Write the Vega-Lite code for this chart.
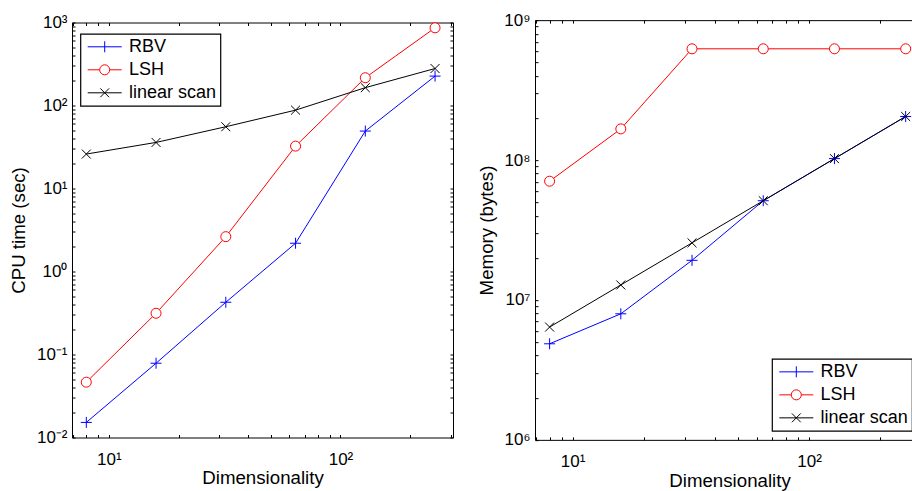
{
  "$schema": "https://vega.github.io/schema/vega-lite/v6.json",
  "background": "white",
  "autosize": {"type": "pad"},
  "padding": {"left": 8, "top": 10, "right": 0, "bottom": 0},
  "spacing": 82,
  "bounds": "flush",
  "center": true,
  "resolve": {"scale": {"color": "independent", "shape": "independent"}, "legend": {"color": "independent", "shape": "independent"}},
  "datasets": {
    "cpu": [
      {"dim": 8, "method": "RBV", "value": 0.0152},
      {"dim": 16, "method": "RBV", "value": 0.0785},
      {"dim": 32, "method": "RBV", "value": 0.426},
      {"dim": 64, "method": "RBV", "value": 2.19},
      {"dim": 128, "method": "RBV", "value": 49.2},
      {"dim": 256, "method": "RBV", "value": 226},
      {"dim": 8, "method": "LSH", "value": 0.0464},
      {"dim": 16, "method": "LSH", "value": 0.314},
      {"dim": 32, "method": "LSH", "value": 2.63},
      {"dim": 64, "method": "LSH", "value": 32.4},
      {"dim": 128, "method": "LSH", "value": 216},
      {"dim": 256, "method": "LSH", "value": 863},
      {"dim": 8, "method": "linear scan", "value": 26.0},
      {"dim": 16, "method": "linear scan", "value": 35.9},
      {"dim": 32, "method": "linear scan", "value": 55.5},
      {"dim": 64, "method": "linear scan", "value": 87.9},
      {"dim": 128, "method": "linear scan", "value": 164},
      {"dim": 256, "method": "linear scan", "value": 279}
    ],
    "memory": [
      {"dim": 8, "method": "RBV", "value": 4860000},
      {"dim": 16, "method": "RBV", "value": 7960000},
      {"dim": 32, "method": "RBV", "value": 19200000},
      {"dim": 64, "method": "RBV", "value": 51200000},
      {"dim": 128, "method": "RBV", "value": 102400000},
      {"dim": 256, "method": "RBV", "value": 204800000},
      {"dim": 8, "method": "LSH", "value": 70600000},
      {"dim": 16, "method": "LSH", "value": 167000000},
      {"dim": 32, "method": "LSH", "value": 624000000},
      {"dim": 64, "method": "LSH", "value": 624000000},
      {"dim": 128, "method": "LSH", "value": 624000000},
      {"dim": 256, "method": "LSH", "value": 624000000},
      {"dim": 8, "method": "linear scan", "value": 6400000},
      {"dim": 16, "method": "linear scan", "value": 12800000},
      {"dim": 32, "method": "linear scan", "value": 25600000},
      {"dim": 64, "method": "linear scan", "value": 51200000},
      {"dim": 128, "method": "linear scan", "value": 102400000},
      {"dim": 256, "method": "linear scan", "value": 204800000}
    ]
  },
  "hconcat": [
    {
      "width": 381,
      "height": 415,
      "data": {"name": "cpu"},
      "encoding": {
        "x": {"field": "dim", "type": "quantitative", "scale": {"type": "log", "domain": [6.94, 306], "nice": false}, "axis": null},
        "y": {"field": "value", "type": "quantitative", "scale": {"type": "log", "domain": [0.01, 1000], "nice": false}, "axis": null},
        "color": {"field": "method", "type": "nominal", "scale": {"domain": ["RBV", "LSH", "linear scan"], "range": ["#0000ff", "#ff0000", "#000000"]}}
      },
      "layer": [
        {
          "mark": {"type": "line", "strokeWidth": 1},
          "encoding": {
            "x": {
              "field": "dim", "type": "quantitative",
              "axis": {
                "orient": "bottom", "title": "Dimensionality",
                "values": [7, 8, 9, 10, 20, 30, 40, 50, 60, 70, 80, 90, 100, 200, 300],
                "labelExpr": "abs(log(datum.value)/LN10 - round(log(datum.value)/LN10)) < 1e-6 ? '10' + (round(log(datum.value)/LN10) < 0 ? '⁻' : '') + ['⁰','¹','²','³','⁴','⁵','⁶','⁷','⁸','⁹'][abs(round(log(datum.value)/LN10))] : ''",
                "labelBaseline": "alphabetic", "labelPadding": 29.7,
                "titleBaseline": "alphabetic", "titleY": 46.3
              }
            },
            "y": {
              "field": "value", "type": "quantitative",
              "axis": {
                "orient": "left", "title": "CPU time (sec)",
                "values": [0.01, 0.02, 0.03, 0.04, 0.05, 0.06, 0.07, 0.08, 0.09, 0.1, 0.2, 0.3, 0.4, 0.5, 0.6, 0.7, 0.8, 0.9, 1, 2, 3, 4, 5, 6, 7, 8, 9, 10, 20, 30, 40, 50, 60, 70, 80, 90, 100, 200, 300, 400, 500, 600, 700, 800, 900, 1000],
                "labelExpr": "abs(log(datum.value)/LN10 - round(log(datum.value)/LN10)) < 1e-6 ? '10' + (round(log(datum.value)/LN10) < 0 ? '⁻' : '') + ['⁰','¹','²','³','⁴','⁵','⁶','⁷','⁸','⁹'][abs(round(log(datum.value)/LN10))] : ''",
                "labelPadding": 8,
                "titleBaseline": "alphabetic", "titleX": -47.8
              }
            },
            "color": {
              "field": "method", "type": "nominal",
              "legend": {"orient": "none", "legendX": 8.4, "legendY": 11.3}
            }
          }
        },
        {
          "transform": [{"filter": {"field": "method", "equal": "RBV"}}],
          "mark": {"type": "point", "shape": "M-1,0L1,0M0,-1L0,1", "filled": false, "strokeWidth": 1, "size": 121, "opacity": 1},
          "encoding": {
            "x": {
              "field": "dim", "type": "quantitative",
              "axis": {"orient": "top", "title": null, "labels": false,
                "values": [7, 8, 9, 10, 20, 30, 40, 50, 60, 70, 80, 90, 100, 200, 300]}
            },
            "y": {
              "field": "value", "type": "quantitative",
              "axis": {"orient": "right", "title": null, "labels": false,
                "values": [0.01, 0.02, 0.03, 0.04, 0.05, 0.06, 0.07, 0.08, 0.09, 0.1, 0.2, 0.3, 0.4, 0.5, 0.6, 0.7, 0.8, 0.9, 1, 2, 3, 4, 5, 6, 7, 8, 9, 10, 20, 30, 40, 50, 60, 70, 80, 90, 100, 200, 300, 400, 500, 600, 700, 800, 900, 1000]}
            }
          }
        },
        {
          "transform": [{"filter": {"field": "method", "equal": "LSH"}}],
          "mark": {"type": "point", "shape": "circle", "filled": false, "fill": "white", "strokeWidth": 1, "size": 100, "opacity": 1}
        },
        {
          "transform": [{"filter": {"field": "method", "equal": "linear scan"}}],
          "mark": {"type": "point", "shape": "M-1,-1L1,1M-1,1L1,-1", "filled": false, "strokeWidth": 1, "size": 80, "opacity": 1}
        },
        {
          "transform": [{"filter": "false"}],
          "mark": {"type": "point", "filled": false, "strokeWidth": 1, "opacity": 1},
          "encoding": {
            "shape": {
              "field": "method", "type": "nominal",
              "scale": {"domain": ["RBV", "LSH", "linear scan"], "range": ["M-2,0L2,0M0,-0.65L0,0.65", "M-2,0L-0.59,0M0.59,0L2,0M0.59,0A0.59,0.59,0,1,1,-0.59,0A0.59,0.59,0,1,1,0.59,0Z", "M-2,0L2,0M-0.52,-0.52L0.52,0.52M-0.52,0.52L0.52,-0.52"]},
              "legend": {"orient": "none", "legendX": 8.4, "legendY": 11.3}
            }
          }
        }
      ],
      "resolve": {"axis": {"x": "independent", "y": "independent"}}
    },
    {
      "width": 389,
      "height": 419.7,
      "data": {"name": "memory"},
      "encoding": {
        "x": {"field": "dim", "type": "quantitative", "scale": {"type": "log", "domain": [6.94, 306], "nice": false}, "axis": null},
        "y": {"field": "value", "type": "quantitative", "scale": {"type": "log", "domain": [1000000, 1000000000], "nice": false}, "axis": null},
        "color": {"field": "method", "type": "nominal", "scale": {"domain": ["RBV", "LSH", "linear scan"], "range": ["#0000ff", "#ff0000", "#000000"]}}
      },
      "layer": [
        {
          "mark": {"type": "line", "strokeWidth": 1},
          "encoding": {
            "x": {
              "field": "dim", "type": "quantitative",
              "axis": {
                "orient": "bottom", "title": "Dimensionality",
                "values": [7, 8, 9, 10, 20, 30, 40, 50, 60, 70, 80, 90, 100, 200, 300],
                "labelExpr": "abs(log(datum.value)/LN10 - round(log(datum.value)/LN10)) < 1e-6 ? '10' + (round(log(datum.value)/LN10) < 0 ? '⁻' : '') + ['⁰','¹','²','³','⁴','⁵','⁶','⁷','⁸','⁹'][abs(round(log(datum.value)/LN10))] : ''",
                "labelBaseline": "alphabetic", "labelPadding": 29.7,
                "titleBaseline": "alphabetic", "titleY": 46.3
              }
            },
            "y": {
              "field": "value", "type": "quantitative",
              "axis": {
                "orient": "left", "title": "Memory (bytes)",
                "values": [1000000, 2000000, 3000000, 4000000, 5000000, 6000000, 7000000, 8000000, 9000000, 10000000, 20000000, 30000000, 40000000, 50000000, 60000000, 70000000, 80000000, 90000000, 100000000, 200000000, 300000000, 400000000, 500000000, 600000000, 700000000, 800000000, 900000000, 1000000000],
                "labelExpr": "abs(log(datum.value)/LN10 - round(log(datum.value)/LN10)) < 1e-6 ? '10' + (round(log(datum.value)/LN10) < 0 ? '⁻' : '') + ['⁰','¹','²','³','⁴','⁵','⁶','⁷','⁸','⁹'][abs(round(log(datum.value)/LN10))] : ''",
                "labelPadding": 8,
                "titleBaseline": "alphabetic", "titleX": -42.7
              }
            },
            "color": {
              "field": "method", "type": "nominal",
              "legend": {"orient": "none", "legendX": 237, "legendY": 338.7}
            }
          }
        },
        {
          "transform": [{"filter": {"field": "method", "equal": "RBV"}}],
          "mark": {"type": "point", "shape": "M-1,0L1,0M0,-1L0,1", "filled": false, "strokeWidth": 1, "size": 121, "opacity": 1},
          "encoding": {
            "x": {
              "field": "dim", "type": "quantitative",
              "axis": {"orient": "top", "title": null, "labels": false,
                "values": [7, 8, 9, 10, 20, 30, 40, 50, 60, 70, 80, 90, 100, 200, 300]}
            },
            "y": {
              "field": "value", "type": "quantitative",
              "axis": {"orient": "right", "title": null, "labels": false,
                "values": [1000000, 2000000, 3000000, 4000000, 5000000, 6000000, 7000000, 8000000, 9000000, 10000000, 20000000, 30000000, 40000000, 50000000, 60000000, 70000000, 80000000, 90000000, 100000000, 200000000, 300000000, 400000000, 500000000, 600000000, 700000000, 800000000, 900000000, 1000000000]}
            }
          }
        },
        {
          "transform": [{"filter": {"field": "method", "equal": "LSH"}}],
          "mark": {"type": "point", "shape": "circle", "filled": false, "fill": "white", "strokeWidth": 1, "size": 100, "opacity": 1}
        },
        {
          "transform": [{"filter": {"field": "method", "equal": "linear scan"}}],
          "mark": {"type": "point", "shape": "M-1,-1L1,1M-1,1L1,-1", "filled": false, "strokeWidth": 1, "size": 80, "opacity": 1}
        },
        {
          "transform": [{"filter": "false"}],
          "mark": {"type": "point", "filled": false, "strokeWidth": 1, "opacity": 1},
          "encoding": {
            "shape": {
              "field": "method", "type": "nominal",
              "scale": {"domain": ["RBV", "LSH", "linear scan"], "range": ["M-2,0L2,0M0,-0.65L0,0.65", "M-2,0L-0.59,0M0.59,0L2,0M0.59,0A0.59,0.59,0,1,1,-0.59,0A0.59,0.59,0,1,1,0.59,0Z", "M-2,0L2,0M-0.52,-0.52L0.52,0.52M-0.52,0.52L0.52,-0.52"]},
              "legend": {"orient": "none", "legendX": 237, "legendY": 338.7}
            }
          }
        }
      ],
      "resolve": {"axis": {"x": "independent", "y": "independent"}}
    }
  ],
  "config": {
    "font": "Liberation Sans",
    "view": {"stroke": "black", "strokeWidth": 1},
    "axis": {
      "domain": false, "grid": false,
      "ticks": true, "tickColor": "black", "tickSize": -3, "tickWidth": 1,
      "labelFont": "Liberation Sans", "labelFontSize": 17, "labelColor": "black",
      "labelOverlap": false, "labelFlush": false,
      "titleFont": "Liberation Sans", "titleFontSize": 18.7, "titleFontWeight": "normal", "titleColor": "black"
    },
    "legend": {
      "title": null,
      "fillColor": "white", "strokeColor": "black", "strokeWidth": 1.2,
      "cornerRadius": 0,
      "padding": 4, "symbolOffset": 11.3, "rowPadding": 5,
      "symbolSize": 289, "symbolStrokeWidth": 1, "symbolOpacity": 1,
      "labelOffset": 15.3, "labelFont": "Liberation Sans", "labelFontSize": 18, "labelColor": "black",
      "labelLimit": 300
    }
  }
}
